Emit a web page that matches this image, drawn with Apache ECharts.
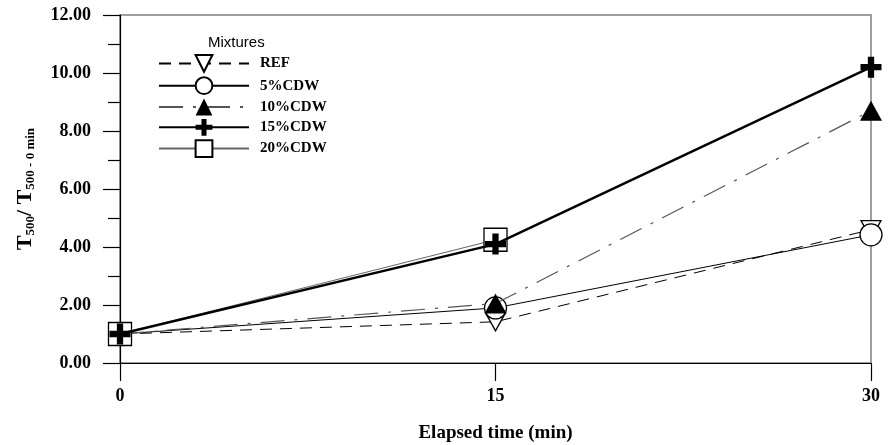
<!DOCTYPE html>
<html>
<head>
<meta charset="utf-8">
<script src="https://cdn.jsdelivr.net/npm/echarts@6/dist/echarts.min.js"></script>
<style>html,body{margin:0;padding:0;background:#fff}#c{width:890px;height:445px}</style>
</head>
<body>
<div id="c"></div>
<script>
const times = [0, 15, 30];
const xTicks = [0, 15, 30];
const seriesNames = ['REF', '5%CDW', '10%CDW', '15%CDW', '20%CDW'];
const refValues = [1.0, 1.42, 4.6];
const cdw5Values = [1.0, 1.9, 4.42];
const cdw10Values = [1.0, 2.05, 8.7];
const cdw15Values = [1.0, 4.1, 10.2];
const cdw20Values = [1.0, 4.25, null];

const serif = 'Liberation Serif';
const pair = v => times.map((t, i) => [t, v[i]]);

const triDown = 'path://M0,0H20L10,18Z';
const plus = 'path://M7,0H13V7H20V13H13V20H7V13H0V7H7Z';
const sq = 'path://M0,0H20V20H0Z';

const chart = echarts.init(document.getElementById('c'));
chart.setOption({
  animation: false,
  grid: { left: 120, right: 19, top: 15, bottom: 82, containLabel: false, outerBoundsMode: 'none',
    show: true, borderColor: '#808080', borderWidth: 1.5, backgroundColor: 'transparent' },
  xAxis: {
    type: 'value', min: 0, max: 30, interval: 15,
    name: 'Elapsed time (min)', nameLocation: 'middle', nameGap: 61,
    nameTextStyle: { fontFamily: serif, fontWeight: 'bold', fontSize: 19, color: '#000' },
    axisLine: { show: true, lineStyle: { color: '#000', width: 1.2 } },
    axisTick: { show: true, inside: false, length: 18, lineStyle: { color: '#000', width: 1.2 } },
    axisLabel: { fontFamily: serif, fontWeight: 'bold', fontSize: 18, color: '#000', margin: 24,
      formatter: v => xTicks.indexOf(v) >= 0 ? String(v) : '' },
    splitLine: { show: false }
  },
  yAxis: {
    type: 'value', min: 0, max: 12, interval: 2,
    name: '{a|T}{s|500}{a|/ T}{s|500 - 0 min}', nameLocation: 'middle', nameGap: 82,
    nameTextStyle: {
      color: '#000',
      rich: {
        a: { fontFamily: serif, fontWeight: 'bold', fontSize: 22, color: '#000', lineHeight: 26 },
        s: { fontFamily: serif, fontWeight: 'bold', fontSize: 13, color: '#000', lineHeight: 26, padding: [12, 0, 0, 0] }
      }
    },
    axisLine: { show: true, lineStyle: { color: '#000', width: 1.2 } },
    axisTick: { show: true, inside: false, length: 17, lineStyle: { color: '#000', width: 1.2 } },
    minorTick: { show: true, splitNumber: 2, length: 12, lineStyle: { color: '#000', width: 1.2 } },
    axisLabel: { fontFamily: serif, fontWeight: 'bold', fontSize: 18, color: '#000', margin: 29,
      formatter: v => v.toFixed(2) },
    splitLine: { show: false }
  },
  legend: {
    orient: 'vertical', left: 153, top: 49, itemWidth: 90, itemHeight: 21, itemGap: 3.5,
    textStyle: { fontFamily: serif, fontWeight: 'bold', fontSize: 15, color: '#000', padding: [0, 0, 0, 6] },
    data: seriesNames
  },
  graphic: [{
    type: 'text', left: 208, top: 35,
    style: { text: 'Mixtures', font: '15px "Liberation Sans"', fill: '#000' }
  }],
  series: [
    { name: seriesNames[0], type: 'line', data: pair(refValues), clip: false, z: 3,
      symbol: triDown, symbolSize: [20, 18],
      lineStyle: { color: '#000', width: 1, type: [12, 8] },
      itemStyle: { color: '#fff', borderColor: '#000', borderWidth: 1.3 } },
    { name: seriesNames[1], type: 'line', data: pair(cdw5Values), clip: false, z: 4,
      symbol: 'circle', symbolSize: 22,
      lineStyle: { color: '#000', width: 1 },
      itemStyle: { color: '#fff', borderColor: '#000', borderWidth: 1.3 } },
    { name: seriesNames[2], type: 'line', data: pair(cdw10Values), clip: false, z: 5,
      symbol: 'triangle', symbolSize: [22, 20],
      lineStyle: { color: '#555', width: 1.2, type: [24, 10, 3, 10] },
      itemStyle: { color: '#000', borderColor: '#000', borderWidth: 0 } },
    { name: seriesNames[3], type: 'line', data: pair(cdw15Values), clip: false, z: 7,
      symbol: plus, symbolSize: 21,
      lineStyle: { color: '#000', width: 2.5 },
      itemStyle: { color: '#000', borderColor: '#000', borderWidth: 0 } },
    { name: seriesNames[4], type: 'line', data: pair(cdw20Values), clip: false, z: 6,
      symbol: sq, symbolSize: 23, connectNulls: false,
      lineStyle: { color: '#666', width: 1 },
      itemStyle: { color: '#fff', borderColor: '#000', borderWidth: 1.3 } }
  ]
});
</script>
</body>
</html>
